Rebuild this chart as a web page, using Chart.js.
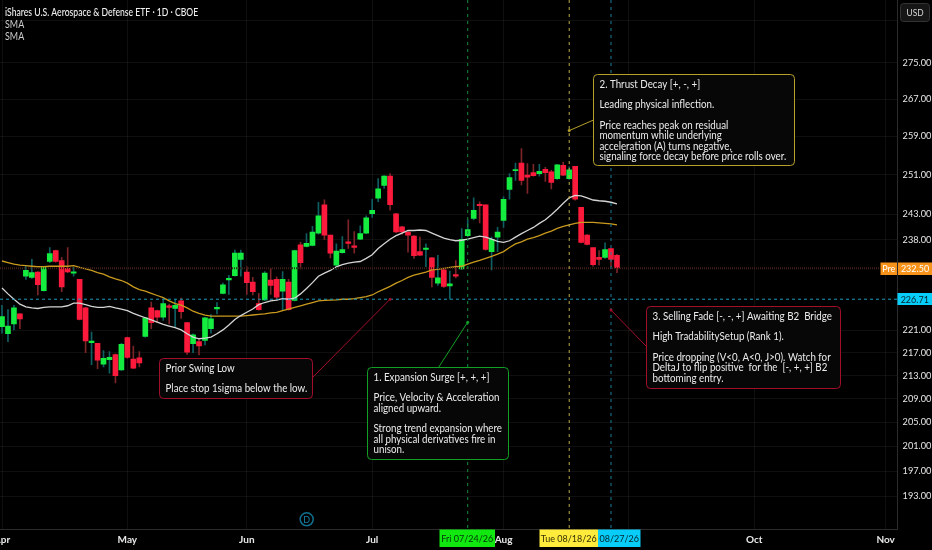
<!DOCTYPE html>
<html>
<head>
<meta charset="utf-8">
<title>ITA 1D</title>
<script src="https://cdn.jsdelivr.net/npm/chart.js@4/dist/chart.umd.min.js"></script>
<style>
    html, body { margin: 0; padding: 0; background: #000; overflow: hidden; }
    canvas { display: block; }
</style>
</head>
<body>
<canvas id="priceChart" width="932" height="550"></canvas>
<script>
    // Trading days shown on the chart, 2026
    const days = [
        '04/01','04/02','04/06','04/07','04/08','04/09','04/10','04/13','04/14','04/15','04/16','04/17','04/20','04/21','04/22','04/23','04/24','04/27','04/28','04/29','04/30',
        '05/01','05/04','05/05','05/06','05/07','05/08','05/11','05/12','05/13','05/14','05/15','05/18','05/19','05/20','05/21','05/22','05/26','05/27','05/28','05/29',
        '06/01','06/02','06/03','06/04','06/05','06/08','06/09','06/10','06/11','06/12','06/15','06/16','06/17','06/18','06/22','06/23','06/24','06/25','06/26','06/29','06/30',
        '07/01','07/02','07/06','07/07','07/08','07/09','07/10','07/13','07/14','07/15','07/16','07/17','07/20','07/21','07/22','07/23','07/24','07/27','07/28','07/29','07/30','07/31',
        '08/03','08/04','08/05','08/06','08/07','08/10','08/11','08/12','08/13','08/14','08/17','08/18','08/19','08/20','08/21','08/24','08/25','08/26','08/27','08/28'
    ];

    const opens = [
        221.7,220.4,222.2,224,231,230.8,231.8,228.3,233.8,235.9,234,232.5,231.6,230.4,225.1,218.8,218.7,215,215.8,216.7,214,
        219.7,215.9,216.1,219.9,225.1,224.6,223.4,225.5,225,226.4,222.4,218.6,219,219.2,221.3,224.9,227.8,230.3,231.1,234.2,
        231.8,229.9,225.9,226.6,230.3,230.4,228.2,229.9,226.5,237,236.7,236.9,239.3,244.9,238.9,233.1,235.5,237.6,236.8,238.1,239.3,
        243.1,246.2,248.8,250.7,243.1,240.5,239.5,238.7,235.7,236.1,234.5,229.7,232.2,229.2,231.3,232.4,238.8,242.2,245,244.9,235.7,238.5,
        241.8,248,251.8,253.4,250.9,251.4,251.2,252.1,251.6,250.2,252.9,250.2,252.7,244.4,238.9,236.5,234.6,234.6,236.3,235
    ];
    const highs = [
        225.6,224.8,225.6,224,233,234.2,231.9,232.8,236.5,236,234.6,236.5,232.7,230.4,225.2,220.7,218.7,217.4,217.2,216.8,218.7,
        219.8,218.2,217.2,223.4,226.2,224.7,226.6,225.8,226.6,226.9,222.4,220.4,219.6,223.4,223.9,226.1,229.7,231.2,236,236,
        232.8,230.8,227.8,231.9,232.5,230.9,231.9,230.4,236,237.5,239.2,240.6,245.4,245.9,238.9,237.2,238.6,241.9,239.6,240.7,242.7,
        246,250.2,250.8,251.2,243.2,240.6,239.6,238.8,238.5,237.2,234.6,235,232.3,232,234,240.2,241.9,246.3,245.5,244.9,238.5,240.4,
        246.5,251.2,253.4,256.4,253.3,253.1,253.1,252.5,251.9,253.1,253.6,252.6,252.7,244.4,239,236.5,235.9,237.4,236.3,235.2
    ];
    const lows = [
        220.5,219,221.1,221.3,230.4,230.6,227.5,228.2,233.6,233.7,228.1,231.7,231,222.9,217,214.9,214.2,214.5,213.4,211.7,213.9,
        216,214.2,214.5,219.8,221.3,222.5,222.8,222.2,221.6,223.2,216.7,217,216.6,218.4,220.5,224,227.7,227.6,231,231,
        227.6,227.5,224.7,226.5,227.6,226.5,224.7,224.7,226.4,232.4,236.6,236.8,239.1,238,234.5,232.3,235.4,236.3,235.4,238,239.2,
        242.4,245.5,248.2,243.8,239.4,239.1,235.6,234.4,234.9,232.8,229,229.3,228.9,226.7,230.7,232.3,238.6,241.9,241.3,236,232.2,235.7,
        240.4,246,249.8,248.9,247.2,250.7,250.7,249.6,248.1,250,250.8,250,245.8,237.4,237,232.9,233.1,234.4,232.8,231.7
    ];
    const closes = [
        223.5,221.8,225.1,223.1,232.1,231.7,229.4,232.7,235.3,233.8,229,231.8,231.8,223,219.1,219.1,215.7,216,216.2,213,218.5,
        216.2,214.3,215.2,223.3,222.4,223.4,225.9,225.2,225.6,224.4,217.1,220.2,218.2,223.3,223.1,225.2,229.4,230.6,235.4,235.4,
        229.8,228.1,224.8,231.6,229.3,227.1,230.4,224.8,235.9,233.6,237.3,239.5,242.7,238.9,235.4,235.8,236.1,237.3,236.5,239.2,242.3,
        243.8,248.1,250.7,244.9,239.5,239.5,238.9,234.9,235,236.4,230.8,230.7,229.1,229.6,231,238.1,240,243.8,244.7,236.1,238.1,239.5,
        246,250.4,252,249.8,250.5,250.8,251.7,251.4,249.4,253,250.9,252,246,237.5,237.1,233.2,234.2,236.1,234.2,232.6
    ];

    const smaFast = [
        228.8,227.7,226.7,225.8,225.3,225.1,225,225.2,225.3,225.3,225.3,225.5,226,226,225.7,225.4,225.2,225.2,225.4,225.1,224.9,
        224.6,224.1,223.7,223.3,222.9,222.5,222.1,221.8,221.5,221.1,220.4,219.8,219.5,219.6,219.8,220.4,221.1,222,223,223.7,
        224.3,224.9,225.7,226.1,226.4,226.55,226.8,226.7,226.9,227.7,228.7,229.8,231,231.6,232.1,232.8,233.2,233.5,233.7,233.8,234.4,
        235.1,236.3,237.2,238.1,238.8,239.3,239.8,239.8,239.9,239.8,239.3,238.8,238.3,238,237.8,237.9,238.1,238.4,238.7,238.5,238.1,237.7,
        237.5,237.8,238.5,239.2,239.8,240.4,241.2,241.9,242.9,244,245.2,246.3,246.8,246.7,246.3,245.85,245.7,245.6,245.4,245.1
    ];
    const smaSlow = [
        233.9,233.6,233.3,233.1,233,232.9,232.8,232.8,232.9,232.9,232.9,232.9,233,232.7,232.4,232.1,231.7,231.4,230.9,230.5,230.2,
        229.7,229,228.5,228.2,227.8,227.4,227,226.4,225.9,225.6,225.1,224.5,224.1,223.8,223.6,223.6,223.6,223.6,223.6,223.6,
        223.7,223.8,223.9,224,224.2,224.3,224.6,224.9,225.2,225.5,225.8,226.1,226.4,226.5,226.55,226.6,226.7,226.7,226.8,227,227.2,
        227.5,228.1,228.6,229.1,229.7,230.2,230.8,231.2,231.5,231.8,232.2,232.3,232.5,232.7,232.8,232.9,233.3,233.7,234,234.4,234.8,235.2,
        235.7,236.5,237.2,237.6,238.1,238.4,238.8,239.3,239.7,240.2,240.6,240.9,241.2,241.4,241.4,241.4,241.3,241.2,241.1,240.9
    ];

    const priceTicks = [275, 267, 259, 251, 243, 238, 221, 217, 213, 209, 205, 201, 197, 193];
    const gridOnlyPrices = [284.8];
    const monthLabels = ['Apr', 'May', 'Jun', 'Jul', 'Aug', 'Sep', 'Oct', 'Nov'];
    const monthStarts = [0, 21, 41, 62, 84, 105, 126, 148];

    const lastPrice = 232.5;
    const levelPrice = 226.71;

    const swingNote = ['Prior Swing Low', '', 'Place stop 1sigma below the low.'];
    const surgeNote = ['1. Expansion Surge [+, +, +]', '', 'Price, Velocity & Acceleration', 'aligned upward.', '', 'Strong trend expansion where', 'all physical derivatives fire in', 'unison.'];
    const decayNote = ['2. Thrust Decay [+, -, +]', '', 'Leading physical inflection.', '', 'Price reaches peak on residual', 'momentum while underlying', 'acceleration (A) turns negative,', 'signaling force decay before price rolls over.'];
    const fadeNote = ['3. Selling Fade [-, -, +] Awaiting B2  Bridge', '', 'High TradabilitySetup (Rank 1).', '', 'Price dropping (V<0, A<0, J>0). Watch for', 'DeltaJ to flip positive  for the  [-, +, +] B2', 'bottoming entry.'];

    const FONT = 'Lato, sans-serif';
    const GREEN = '#14ec3f', RED = '#fb1a3c';
    const GREEN_WICK = '#0f5f62', RED_WICK = '#7c2428';

    const isUp = closes.map((c, i) => c >= opens[i]);

    // Candles are two floating bar sets: thin wicks behind, bodies in front
    const wickData = days.map((d, i) => ({ x: i, y: [lows[i], highs[i]] }));
    const bodyData = days.map((d, i) => ({ x: i, y: [opens[i], closes[i]] }));

    function dashedLine(ctx, x1, y1, x2, y2, color, dash, width) {
        ctx.save();
        ctx.strokeStyle = color;
        ctx.lineWidth = width || 1;
        ctx.setLineDash(dash || []);
        ctx.beginPath();
        ctx.moveTo(x1, y1);
        ctx.lineTo(x2, y2);
        ctx.stroke();
        ctx.restore();
    }

    // the reference font runs narrower than anything installed, so squeeze it a bit
    function narrowText(ctx, text, x, y, squeeze) {
        if (text) ctx.fillText(text, x, y, ctx.measureText(text).width * squeeze);
    }

    function drawNote(ctx, lines, box, color, targetX, targetY, fromX, fromY) {
        dashedLine(ctx, fromX, fromY, targetX, targetY, color, [], 1);
        ctx.fillStyle = color;
        ctx.beginPath();
        ctx.arc(targetX, targetY, 1.5, 0, Math.PI * 2);
        ctx.fill();

        ctx.beginPath();
        ctx.roundRect(box.x, box.y, box.w, box.h, 4);
        ctx.fillStyle = '#070707';
        ctx.fill();
        ctx.strokeStyle = color;
        ctx.lineWidth = 1;
        ctx.stroke();

        ctx.fillStyle = '#ececec';
        ctx.font = '10.5px ' + FONT;
        ctx.textAlign = 'left';
        ctx.textBaseline = 'middle';
        lines.forEach((t, i) => narrowText(ctx, t, box.x + 6, box.y + 10 + i * 10.3, 0.93));
    }

    function tag(ctx, x, y, w, h, fill, text, color) {
        ctx.fillStyle = fill;
        ctx.fillRect(x, y, w, h);
        ctx.fillStyle = color;
        ctx.font = '10px ' + FONT;
        ctx.textAlign = 'center';
        ctx.textBaseline = 'middle';
        narrowText(ctx, text, x + w / 2, y + h / 2 + 0.5, 0.9);
    }

    const overlayPlugin = {
        id: 'overlay',
        afterDraw(chart) {
            const ctx = chart.ctx;
            const xs = chart.scales.x, ys = chart.scales.y;
            const area = chart.chartArea;
            const px = i => xs.getPixelForValue(i);
            const py = v => ys.getPixelForValue(v);

            // price lines
            dashedLine(ctx, 0, py(lastPrice), 880, py(lastPrice), '#3c2016', [1, 1], 2);
            dashedLine(ctx, 0, py(levelPrice), area.right, py(levelPrice), '#1a9cb8', [3, 3]);

            // event lines
            const julyDay = days.indexOf('07/24'), augDay = days.indexOf('08/18'), lateDay = days.indexOf('08/27');
            dashedLine(ctx, px(julyDay), 0, px(julyDay), area.bottom, '#12903a', [3, 4]);
            dashedLine(ctx, px(augDay), 0, px(augDay), area.bottom, '#bda94a', [3, 4]);
            dashedLine(ctx, px(lateDay), 0, px(lateDay), area.bottom, '#1b7f9b', [3, 4]);

            drawNote(ctx, swingNote, { x: 159.5, y: 358.5, w: 153, h: 40 }, '#a30f2b', px(65), py(levelPrice), 312.5, 377.5);
            drawNote(ctx, surgeNote, { x: 367.5, y: 367.5, w: 141, h: 92 }, '#12a024', px(julyDay), py(222.5), 438.5, 367.5);
            drawNote(ctx, decayNote, { x: 593.5, y: 74.5, w: 201, h: 91 }, '#b7a02a', px(augDay), py(260.2), 593.5, 120);
            drawNote(ctx, fadeNote, { x: 646.5, y: 306.5, w: 194, h: 82 }, '#a30f2b', px(lateDay), py(224.7), 646.5, 346.5);

            // legend text
            ctx.textAlign = 'left';
            ctx.textBaseline = 'middle';
            ctx.font = '500 10.5px ' + FONT;
            ctx.fillStyle = '#f0f0f0';
            narrowText(ctx, 'iShares U.S. Aerospace & Defense ETF · 1D · CBOE', 5, 12.5, 0.82);
            ctx.font = '10.5px ' + FONT;
            ctx.fillStyle = '#cfcfcf';
            narrowText(ctx, 'SMA', 5, 25, 0.85);
            narrowText(ctx, 'SMA', 5, 37, 0.85);

            // USD button
            ctx.beginPath();
            ctx.roundRect(900.5, 3.5, 29, 18, 3);
            ctx.fillStyle = '#161616';
            ctx.fill();
            ctx.strokeStyle = '#333';
            ctx.stroke();
            ctx.fillStyle = '#d8d8d8';
            ctx.font = '9.5px ' + FONT;
            ctx.textAlign = 'center';
            narrowText(ctx, 'USD', 915, 12.5, 0.88);

            // dividend marker
            ctx.beginPath();
            ctx.arc(306.7, 519.3, 6.5, 0, Math.PI * 2);
            ctx.strokeStyle = '#0f6f8e';
            ctx.lineWidth = 1.5;
            ctx.stroke();
            ctx.fillStyle = '#1382a6';
            ctx.font = '9px ' + FONT;
            ctx.fillText('D', 306.7, 519.8);

            // axis tags
            tag(ctx, 880.5, 262.5, 16.5, 12.5, '#f7931a', 'Pre', '#fff');
            tag(ctx, 898, 262.5, 34, 12.5, '#f7931a', lastPrice.toFixed(2), '#fff');
            tag(ctx, 897.5, 293, 34.5, 12, '#08cdf9', levelPrice.toFixed(2), '#06222b');
            tag(ctx, 439.5, 529.5, 55.5, 17.5, '#10e810', 'Fri 07/24/26', '#05320a');
            tag(ctx, 539.5, 529.5, 58.5, 17.5, '#ffeb3b', 'Tue 08/18/26', '#332f05');
            tag(ctx, 598, 529.5, 42.5, 17.5, '#08cdf9', '08/27/26', '#06222b');
        }
    };

    new Chart(document.getElementById('priceChart').getContext('2d'), {
        type: 'bar',
        data: {
            datasets: [
                {
                    type: 'line',
                    label: 'SMA',
                    data: days.map((d, i) => ({ x: i, y: smaFast[i] })),
                    borderColor: '#d4d4d4',
                    borderWidth: 1.3,
                    pointRadius: 0,
                    order: 0
                },
                {
                    type: 'line',
                    label: 'SMA',
                    data: days.map((d, i) => ({ x: i, y: smaSlow[i] })),
                    borderColor: '#c99a1e',
                    borderWidth: 1.3,
                    pointRadius: 0,
                    order: 0
                },
                {
                    label: 'Body',
                    data: bodyData,
                    backgroundColor: isUp.map(u => u ? GREEN : RED),
                    barThickness: 5,
                    minBarLength: 1.2,
                    grouped: false,
                    order: 1
                },
                {
                    label: 'Wick',
                    data: wickData,
                    backgroundColor: isUp.map(u => u ? GREEN_WICK : RED_WICK),
                    barThickness: 1,
                    grouped: false,
                    order: 2
                }
            ]
        },
        options: {
            responsive: false,
            animation: false,
            devicePixelRatio: 1,
            layout: { padding: 0 },
            plugins: { legend: { display: false }, tooltip: { enabled: false } },
            scales: {
                x: {
                    type: 'linear',
                    bounds: 'data',
                    offset: false,
                    min: -0.335,
                    max: 150,
                    afterBuildTicks(scale) {
                        scale.ticks = monthStarts.map(v => ({ value: v }));
                    },
                    afterFit(scale) {
                        scale.height = 21;
                        scale.paddingLeft = 0;
                        scale.paddingRight = 0;
                    },
                    grid: { color: 'rgba(255,255,255,0.06)', drawTicks: false, offset: false },
                    border: { color: '#2b2b2b' },
                    ticks: {
                        autoSkip: false,
                        maxRotation: 0,
                        padding: 5,
                        color: '#e8e8e8',
                        font: { family: FONT, size: 10, weight: '700' },
                        callback: v => monthLabels[monthStarts.indexOf(v)]
                    }
                },
                y: {
                    type: 'logarithmic',
                    position: 'right',
                    bounds: 'data',
                    min: 187.9,
                    max: 289.5,
                    afterBuildTicks(scale) {
                        scale.ticks = priceTicks.concat(gridOnlyPrices).map(v => ({ value: v }));
                    },
                    afterFit(scale) {
                        scale.width = 34.4;
                        scale.paddingTop = 0;
                        scale.paddingBottom = 0;
                    },
                    grid: { color: 'rgba(255,255,255,0.06)', drawTicks: false },
                    border: { color: '#2b2b2b' },
                    ticks: {
                        padding: 5,
                        color: '#e8e8e8',
                        font: { family: FONT, size: 9.2 },
                        callback: v => priceTicks.includes(v) ? Number(v).toFixed(2) : ''
                    }
                }
            }
        },
        plugins: [overlayPlugin]
    });
</script>
</body>
</html>
